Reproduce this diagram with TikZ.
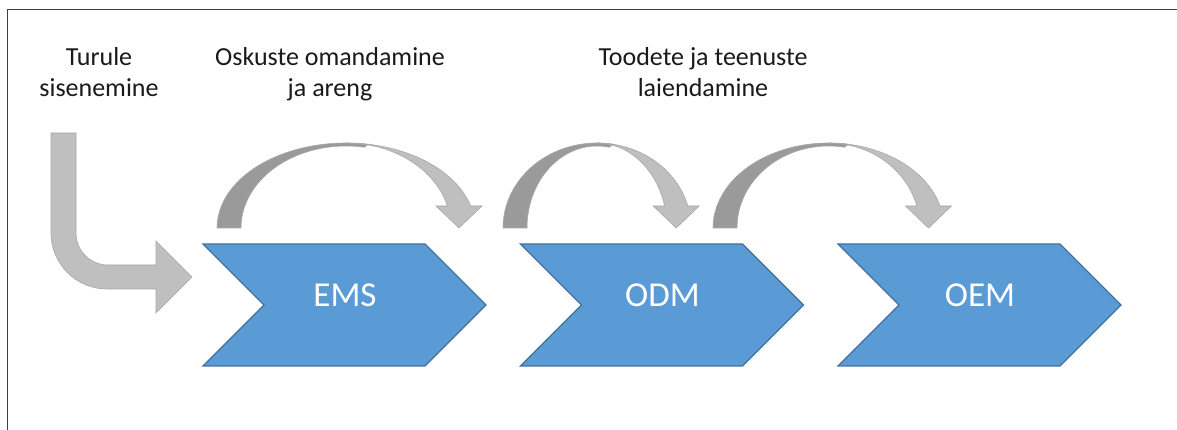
\documentclass[tikz,border=0pt]{standalone}
\usepackage{fontspec}
\setmainfont{Carlito}
\definecolor{chevblue}{HTML}{5B9BD5}
\definecolor{chevedge}{HTML}{41719C}
\definecolor{arrlight}{HTML}{BFBFBF}
\definecolor{arrdark}{HTML}{9A9A9A}
\definecolor{arredge}{HTML}{A8A8A8}
\definecolor{framecol}{HTML}{404040}
\definecolor{txtcol}{HTML}{1A1A1A}
\begin{document}
\begin{tikzpicture}[x=1pt,y=1pt,
  chevbox/.style={fill=chevblue, draw=chevedge, line width=1.3pt, line join=miter},
  frontpart/.style={fill=arrlight, draw=arredge, line width=0.6pt, line join=miter},
  backpart/.style={fill=arrdark, draw=arredge, line width=0.6pt},
  lbl/.style={font=\fontsize{26}{32}\selectfont, text=txtcol, anchor=base, inner sep=0pt},
  chevlbl/.style={font=\fontsize{35}{42}\selectfont, text=white, anchor=base, inner sep=0pt}]
\useasboundingbox (0,0) rectangle (1177,430);
\fill[white] (0,0) rectangle (1177,430);
\draw[line width=1.5pt, color=framecol] (7.5,0) -- (7.5,420.5) -- (1177,420.5);

% chevrons
\foreach \x/\nm/\t in {203/ems/EMS, 520.5/odm/ODM, 838/oem/OEM}{
  \draw[chevbox] (\x,186) -- ++(222,0) -- ++(61,-61) -- ++(-61,-61) -- ++(-222,0) -- ++(61,61) -- cycle;
  \node[chevlbl] (\nm) at (\x+142,123) {\t};
}

% bent entry arrow
\path[frontpart] (51,297) -- (76,297) -- (76,197) arc[start angle=180,end angle=270,radius=32]
  -- (156,165) -- (156,189) -- (192,153) -- (156,117) -- (156,141) -- (107,141)
  arc[start angle=270,end angle=180,radius=56] -- cycle;

% curved arrows
\foreach \xc/\ro/\sc in {346/129/459, 597/94/676.2, 828.5/115.5/928.5}{
  \begin{scope}[shift={(\xc,202)}]
    \pgfmathsetmacro\ri{\ro-24}
    \pgfmathsetmacro\sx{\sc-\xc}
    \path[backpart] ({-\ro},0) arc[start angle=180,end angle=80,x radius=\ro,y radius=85]
      -- ({\ri*cos(80)},{82*sin(80)}) arc[start angle=80,end angle=180,x radius=\ri,y radius=82] -- cycle;
    \path[frontpart] (0,85) arc[start angle=90,end angle=15,x radius=\ro,y radius=85]
      -- ({\sx+23},22) -- (\sx,0) -- ({\sx-23},22)
      -- ({\ri*cos(15)},{85*sin(15)}) arc[start angle=15,end angle=90,x radius=\ri,y radius=85] -- cycle;
  \end{scope}
}

% labels
\node[lbl] (t1a) at (99,364) {Turule};
\node[lbl] (t1b) at (99,333) {sisenemine};
\node[lbl] (t2a) at (330,364) {Oskuste omandamine};
\node[lbl] (t2b) at (330,333) {ja areng};
\node[lbl] (t3a) at (703,364) {Toodete ja teenuste};
\node[lbl] (t3b) at (703,333) {laiendamine};
\end{tikzpicture}
\end{document}
